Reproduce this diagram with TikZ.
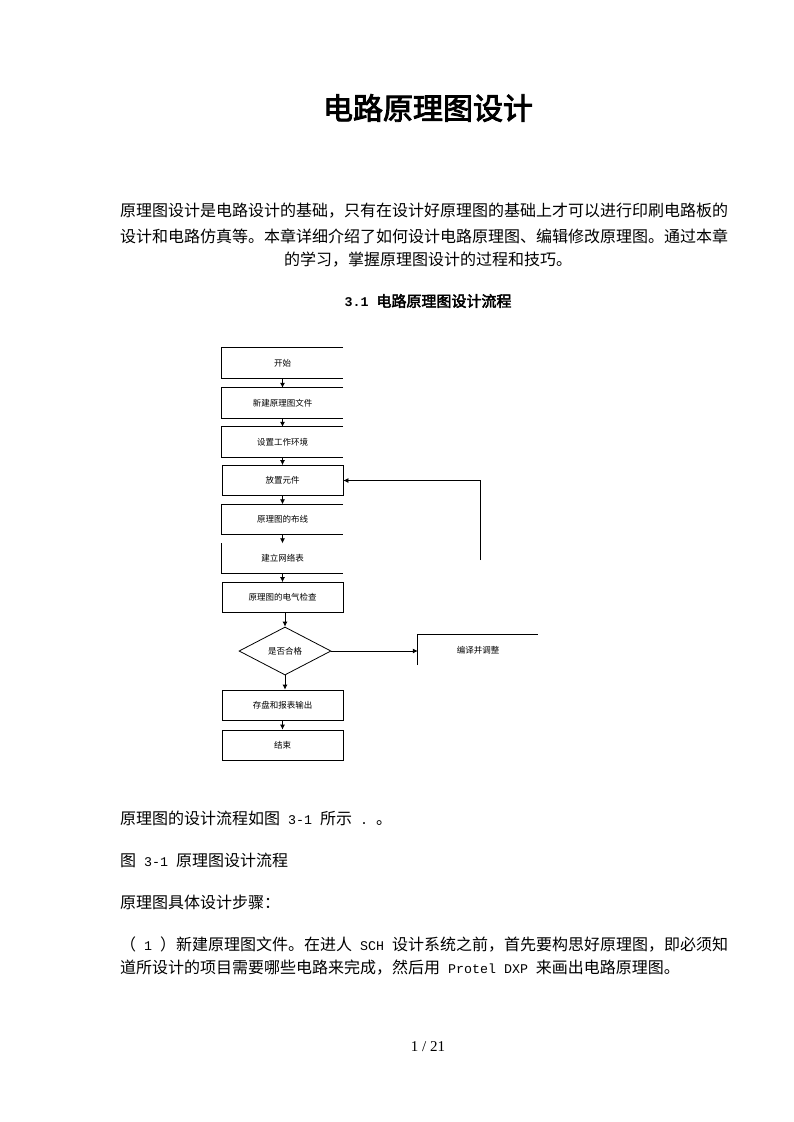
\documentclass[tikz,border=0pt]{standalone}
\usepackage{fontspec}
\usetikzlibrary{shapes.geometric,arrows.meta}
\setmainfont{Liberation Serif}
\newfontfamily\cjk{Noto Sans CJK SC}
\newfontfamily\cjkb{Noto Sans CJK SC}[FakeBold=3]
\newfontfamily\lmono{Liberation Mono}
\newcommand{\lat}[1]{{\lmono\fontsize{13.3pt}{16pt}\selectfont #1}}
\newcommand{\latb}[1]{{\lmono\bfseries\fontsize{13.3pt}{16pt}\selectfont #1}}
\tikzset{
  body/.style={anchor=west,inner sep=0pt,font=\cjk\fontsize{16pt}{20pt}\selectfont},
  fbox/.style={minimum width=121pt,minimum height=30pt,inner sep=0pt,font=\cjk\fontsize{8.5pt}{10pt}\selectfont},
  fdia/.style={diamond,draw,aspect=1.9,minimum width=92pt,minimum height=48pt,inner sep=0pt,font=\cjk\fontsize{8.5pt}{10pt}\selectfont},
  edge/.style={line width=0.8pt},
  flow/.style={line width=0.8pt,-{Latex[length=5pt,width=5pt]}}
}
\begin{document}
\begin{tikzpicture}[x=1pt,y=-1pt]
\fill[white] (0,0) rectangle (793,1122);
\useasboundingbox (0,0) rectangle (793,1122);
% title and text
\node[inner sep=0pt,font=\cjkb\fontsize{30pt}{34pt}\selectfont] (title) at (428,108) {电路原理图设计};
\node[body] (p1) at (120,211) {原理图设计是电路设计的基础，只有在设计好原理图的基础上才可以进行印刷电路板的};
\node[body] (p2) at (120,236) {设计和电路仿真等。本章详细介绍了如何设计电路原理图、编辑修改原理图。通过本章};
\node[inner sep=0pt,font=\cjk\fontsize{16pt}{20pt}\selectfont] (p3) at (428,260) {的学习，掌握原理图设计的过程和技巧。};
\node[inner sep=0pt,font=\cjkb\fontsize{15pt}{18pt}\selectfont] (sec) at (428,301) {\latb{3.1\ }电路原理图设计流程};
\node[body] (t1) at (120,818) {原理图的设计流程如图\lat{\ 3-1\ }所示\lat{\ .\ }。};
\node[body] (t2) at (120,860) {图\lat{\ 3-1\ }原理图设计流程};
\node[body] (t3) at (120,902) {原理图具体设计步骤：};
\node[body] (t4) at (120,944) {（\lat{\ 1\ }）新建原理图文件。在进人\lat{\ SCH\ }设计系统之前，首先要构思好原理图，即必须知};
\node[body] (t5) at (120,968) {道所设计的项目需要哪些电路来完成，然后用\lat{\ Protel DXP\ }来画出电路原理图。};
\node[inner sep=0pt,font=\fontsize{15pt}{18pt}\selectfont] (pg) at (428,1047) {1 / 21};
% flowchart nodes
\node[fbox] (b1) at (282.5,363) {开始};
\node[fbox] (b2) at (282.5,403) {新建原理图文件};
\node[fbox] (b3) at (282.5,442) {设置工作环境};
\node[fbox,draw,edge] (b4) at (282.5,480.5) {放置元件};
\node[fbox] (b5) at (282.5,519.5) {原理图的布线};
\node[fbox] (b6) at (282.5,558.5) {建立网络表};
\node[fbox,draw,edge] (b7) at (282.5,597.5) {原理图的电气检查};
\node[fdia,edge] (d) at (285,651) {是否合格};
\node[fbox,draw,edge] (b8) at (282.5,705) {存盘和报表输出};
\node[fbox,draw,edge] (b9) at (282.5,745) {结束};
\node[fbox,minimum width=120pt] (b10) at (478,650) {编译并调整};
\coordinate (fb) at (480,560);
% open borders
\foreach \b in {b1,b2,b3,b5}{
  \draw[edge] (\b.north east) -- (\b.north west) -- (\b.south west) -- (\b.south east);
}
\draw[edge] (b6.north west) -- (b6.south west) -- (b6.south east);
\draw[edge] (b10.south west) -- (b10.north west) -- (b10.north east);
% connectors
\draw[flow] (b1.south) -- (b2.north);
\draw[flow] (b2.south) -- (b3.north);
\draw[flow] (b3.south) -- (b4.north);
\draw[flow] (b4.south) -- (b5.north);
\draw[flow] (b5.south) -- (b6.north);
\draw[flow] (b6.south) -- (b7.north);
\draw[flow] (b7.south -| d.north) -- (d.north);
\draw[flow] (d.south) -- (d.south |- b8.north);
\draw[flow] (b8.south) -- (b9.north);
\draw[flow] (d.east) -- (d.east -| b10.west);
\draw[flow] (fb) |- (b4.east);
\end{tikzpicture}
\end{document}
